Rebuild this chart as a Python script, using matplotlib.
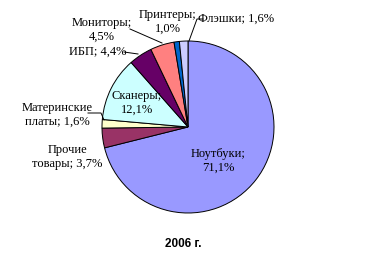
import matplotlib.pyplot as plt

labels = ["Ноутбуки", "Прочие\nтовары", "Материнские\nплаты", "Сканеры",
          "ИБП", "Мониторы", "Принтеры", "Флэшки"]
shares = [71.1, 3.7, 1.6, 12.1, 4.4, 4.5, 1.0, 1.6]
colors = ["#9999FF", "#993366", "#FFFFCC", "#CCFFFF", "#660066", "#FF8080", "#0066CC", "#CCCCFF"]
title = "2006 г."

W, H = 370, 273
fig = plt.figure(figsize=(W / 100, H / 100), dpi=100)
ax = fig.add_axes([0, 0, 1, 1])

def py(y):
    return H - y

ax.pie(shares, colors=colors, startangle=90, counterclock=False,
       center=(188, py(127)), radius=86,
       wedgeprops=dict(edgecolor="black", linewidth=0.7))
ax.set_xlim(0, W); ax.set_ylim(0, H); ax.set_aspect("equal"); ax.axis("off")

def pct(v):
    return f"{v:.1f}".replace(".", ",") + "%"

tf = dict(family="Liberation Serif", fontsize=9, ha="center", va="center", linespacing=1.25)
# label text: (x, y, text)
ax.text(218, py(161), f"{labels[0]};\n{pct(shares[0])}", **tf)
ax.text(67, py(157), "Прочие\nтовары; " + pct(shares[1]), **tf)
ax.text(57, py(115), "Материнские\nплаты; " + pct(shares[2]), **tf)
ax.text(137, py(103), f"{labels[3]};\n{pct(shares[3])}", **tf)
ax.text(98, py(52), f"{labels[4]}; {pct(shares[4])}", **tf)
ax.text(102, py(30), f"{labels[5]};\n{pct(shares[5])}", **tf)
ax.text(168, py(22), f"{labels[6]};\n{pct(shares[6])}", **tf)
ax.text(236, py(19), f"{labels[7]}; {pct(shares[7])}", **tf)

# leader lines
lk = dict(color="black", linewidth=0.7)
ax.plot([88, 101, 104], [py(113), py(113), py(120)], **lk)
ax.plot([124, 138], [py(52), py(54)], **lk)
ax.plot([130, 162], [py(29), py(43)], **lk)
ax.plot([203, 197, 189], [py(19), py(19), py(41)], **lk)

ax.text(183, py(244), title, family="Liberation Sans", fontweight="bold",
        fontsize=8.5, ha="center", va="center")

fig.savefig("out.png", dpi=100)
